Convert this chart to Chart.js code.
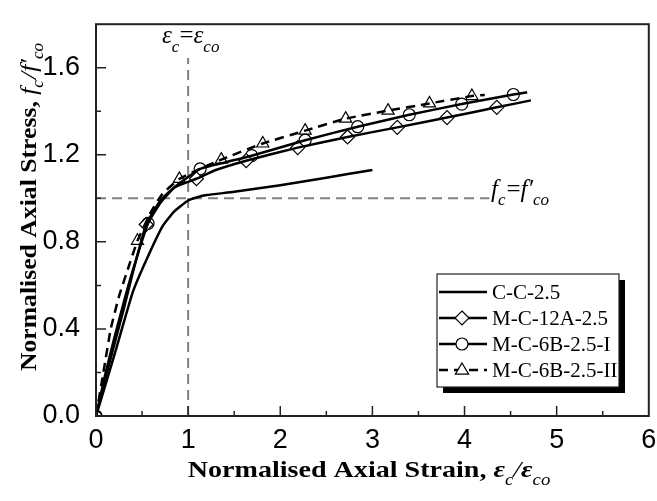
<!DOCTYPE html>
<html>
<head>
<meta charset="utf-8">
<script src="https://cdn.jsdelivr.net/npm/chart.js@4/dist/chart.umd.min.js"></script>
<style>
  body { margin: 0; background: #fff; }
  canvas { display: block; }
</style>
</head>
<body>
<canvas id="stressStrain" width="657" height="501"></canvas>
<script>
// normalised strain / stress
var ccStrain = [0, 0.1, 0.22, 0.4, 0.55, 0.72, 0.85, 1.0, 1.1, 1.2, 1.5, 2.0, 2.5, 3.0]
var ccStress = [0, 0.14, 0.31, 0.57, 0.72, 0.87, 0.94, 0.99, 1.005, 1.015, 1.03, 1.06, 1.095, 1.13]

var a12Strain = [0, 0.1, 0.2, 0.3, 0.4, 0.545, 0.7, 0.85, 1.09, 1.3, 1.63, 2.19, 2.73, 3.27, 3.81, 4.35, 4.72]
var a12Stress = [0, 0.17, 0.33, 0.49, 0.66, 0.88, 0.99, 1.05, 1.09, 1.13, 1.173, 1.233, 1.282, 1.326, 1.371, 1.418, 1.45]
var a12MarkStrain = [0, 0.545, 1.09, 1.63, 2.19, 2.73, 3.27, 3.81, 4.35]
var a12MarkStress = [0, 0.88, 1.09, 1.173, 1.233, 1.282, 1.326, 1.371, 1.418]

var b6Strain = [0, 0.1, 0.2, 0.3, 0.4, 0.565, 0.7, 0.85, 1.13, 1.4, 1.69, 2.27, 2.84, 3.4, 3.97, 4.53, 4.68]
var b6Stress = [0, 0.19, 0.36, 0.52, 0.67, 0.885, 0.98, 1.05, 1.135, 1.165, 1.196, 1.267, 1.329, 1.384, 1.433, 1.477, 1.487]
var b6MarkStrain = [0, 0.565, 1.13, 1.69, 2.27, 2.84, 3.4, 3.97, 4.53]
var b6MarkStress = [0, 0.885, 1.135, 1.196, 1.267, 1.329, 1.384, 1.433, 1.477]

var b6iiStrain = [0, 0.08, 0.16, 0.25, 0.35, 0.45, 0.6, 0.72, 0.905, 1.1, 1.36, 1.81, 2.27, 2.71, 3.17, 3.62, 4.08, 4.22]
var b6iiStress = [0, 0.2, 0.4, 0.55, 0.68, 0.805, 0.94, 1.02, 1.089, 1.13, 1.178, 1.252, 1.311, 1.366, 1.403, 1.436, 1.47, 1.475]
var b6iiMarkStrain = [0, 0.45, 0.905, 1.36, 1.81, 2.27, 2.71, 3.17, 3.62, 4.08]
var b6iiMarkStress = [0, 0.805, 1.089, 1.178, 1.252, 1.311, 1.366, 1.403, 1.436, 1.47]

var seriesNames = ['C-C-2.5', 'M-C-12A-2.5', 'M-C-6B-2.5-I', 'M-C-6B-2.5-II']
var xTickValues = [0, 1, 2, 3, 4, 5, 6]
var yTickValues = [0, 0.4, 0.8, 1.2, 1.6]
var refStrain = 1.0
var refStress = 1.0

var serif = "'Liberation Serif', 'Times New Roman', serif"
var sans = "'Liberation Sans', Arial, sans-serif"

function toPoints (xs, ys) {
  var pts = []
  for (var i = 0; i < xs.length; i++) pts.push({x: xs[i], y: ys[i]})
  return pts
}

function lineSet (xs, ys, dash) {
  return {
    data: toPoints(xs, ys), showLine: true, borderColor: '#000', borderWidth: 2.5,
    borderDash: dash || [], pointRadius: 0, tension: 0.15, fill: false
  }
}

function markSet (xs, ys, style, r) {
  return {
    data: toPoints(xs, ys), showLine: false, pointStyle: style, pointRadius: r,
    pointBackgroundColor: '#fff', pointBorderColor: '#000', pointBorderWidth: 1.2
  }
}

// draw a run of text pieces, each with its own font and vertical shift
function drawRich (ctx, parts, x, y) {
  var cx = x
  for (var i = 0; i < parts.length; i++) {
    ctx.font = parts[i].font
    ctx.fillText(parts[i].text, cx, y + (parts[i].dy || 0))
    cx += ctx.measureText(parts[i].text).width + (parts[i].gap || 0)
  }
  return cx - x
}

function richWidth (ctx, parts) {
  var w = 0
  for (var i = 0; i < parts.length; i++) {
    ctx.font = parts[i].font
    w += ctx.measureText(parts[i].text).width + (parts[i].gap || 0)
  }
  return w
}

function drawMarker (ctx, style, x, y, r) {
  ctx.save()
  ctx.fillStyle = '#fff'
  ctx.strokeStyle = '#000'
  ctx.lineWidth = 1.2
  ctx.beginPath()
  if (style === 'circle') {
    ctx.arc(x, y, r, 0, Math.PI * 2)
  } else if (style === 'rectRot') {
    ctx.moveTo(x, y - r); ctx.lineTo(x + r, y); ctx.lineTo(x, y + r); ctx.lineTo(x - r, y); ctx.closePath()
  } else if (style === 'triangle') {
    ctx.moveTo(x, y - r); ctx.lineTo(x + r * 0.95, y + r * 0.6); ctx.lineTo(x - r * 0.95, y + r * 0.6); ctx.closePath()
  }
  ctx.fill()
  ctx.stroke()
  ctx.restore()
}

var refLines = {
  id: 'refLines',
  beforeDatasetsDraw: function (chart) {
    var ctx = chart.ctx
    var xs = chart.scales.x
    var ys = chart.scales.y
    var area = chart.chartArea
    var px = xs.getPixelForValue(refStrain)
    var py = ys.getPixelForValue(refStress)
    ctx.save()
    ctx.strokeStyle = '#808080'
    ctx.lineWidth = 2
    ctx.setLineDash([10, 6])
    ctx.beginPath()
    ctx.moveTo(px, area.bottom); ctx.lineTo(px, 58)
    ctx.moveTo(area.left, py); ctx.lineTo(xs.getPixelForValue(4.27), py)
    ctx.stroke()
    ctx.restore()

    ctx.save()
    ctx.fillStyle = '#000'
    ctx.textBaseline = 'alphabetic'
    var it = 'italic 25px ' + serif
    var sub = 'italic 17px ' + serif
    drawRich(ctx, [
      {text: '\u03b5', font: it}, {text: 'c', font: sub, dy: 9},
      {text: '=', font: '25px ' + serif}, {text: '\u03b5', font: it}, {text: 'co', font: sub, dy: 9}
    ], 162, 43)
    drawRich(ctx, [
      {text: 'f', font: it}, {text: 'c', font: sub, dy: 8, gap: 1},
      {text: '=', font: '25px ' + serif}, {text: 'f\u2032', font: it}, {text: 'co', font: sub, dy: 8}
    ], 491, 197)
    ctx.restore()
  }
}

var frame = {
  id: 'frame',
  afterDraw: function (chart) {
    var ctx = chart.ctx
    var a = chart.chartArea
    var xs = chart.scales.x
    var ys = chart.scales.y
    ctx.save()
    ctx.strokeStyle = '#222'
    ctx.lineWidth = 2
    ctx.strokeRect(a.left, a.top, a.right - a.left, a.bottom - a.top)
    ctx.lineWidth = 1.5
    ctx.beginPath()
    for (var v = 0.5; v < 6; v += 0.5) {
      var px = xs.getPixelForValue(v)
      var len = (v % 1 === 0) ? 10 : 5
      ctx.moveTo(px, a.bottom); ctx.lineTo(px, a.bottom - len)
    }
    for (var k = 1; k < 9; k++) {
      var py = ys.getPixelForValue(k * 0.2)
      var ylen = (k % 2 === 0) ? 10 : 5
      ctx.moveTo(a.left, py); ctx.lineTo(a.left + ylen, py)
    }
    ctx.stroke()
    ctx.restore()

    // axis titles (the source type is drawn a little wide)
    var bold = 'bold 24px ' + serif
    var bi = 'bold italic 24px ' + serif
    var it = 'italic 24px ' + serif
    var sub = 'italic 16px ' + serif

    ctx.save()
    ctx.fillStyle = '#000'
    var xParts = [
      {text: 'Normalised Axial Strain, ', font: bold},
      {text: '\u03b5', font: bi}, {text: 'c', font: sub, dy: 8},
      {text: '/', font: it}, {text: '\u03b5', font: bi}, {text: 'co', font: sub, dy: 8}
    ]
    var xw = richWidth(ctx, xParts)
    ctx.translate(369, 477)
    ctx.scale(1.17, 1)
    drawRich(ctx, xParts, -xw / 2, 0)
    ctx.restore()

    ctx.save()
    ctx.fillStyle = '#000'
    var yParts = [
      {text: 'Normalised Axial Stress, ', font: bold},
      {text: 'f', font: it}, {text: 'c', font: sub, dy: 7, gap: 1},
      {text: '/', font: it}, {text: 'f\u2032', font: it}, {text: 'co', font: sub, dy: 7}
    ]
    var yw = richWidth(ctx, yParts)
    ctx.translate(36, 207)
    ctx.rotate(-Math.PI / 2)
    ctx.scale(1.07, 1)
    drawRich(ctx, yParts, -yw / 2, 0)
    ctx.restore()

    // legend with drop shadow
    var bx = 437, by = 274, bw = 182, bh = 113
    ctx.save()
    ctx.fillStyle = '#000'
    ctx.fillRect(bx + 6, by + 6, bw, bh)
    ctx.fillStyle = '#fff'
    ctx.fillRect(bx, by, bw, bh)
    ctx.strokeStyle = '#222'
    ctx.lineWidth = 1.2
    ctx.strokeRect(bx, by, bw, bh)
    var styles = [null, 'rectRot', 'circle', 'triangle']
    var radii = [0, 7, 6, 7]
    for (var i = 0; i < seriesNames.length; i++) {
      var ry = 292 + i * 26
      ctx.strokeStyle = '#000'
      ctx.lineWidth = 2.5
      ctx.setLineDash(i === 3 ? [9, 6] : [])
      ctx.beginPath()
      ctx.moveTo(439, ry); ctx.lineTo(487, ry)
      ctx.stroke()
      ctx.setLineDash([])
      if (styles[i]) drawMarker(ctx, styles[i], 462, ry, radii[i])
      ctx.fillStyle = '#000'
      ctx.font = '21px ' + serif
      ctx.textBaseline = 'middle'
      ctx.fillText(seriesNames[i], 492, ry + 1)
    }
    ctx.restore()
  }
}

var ctx = document.getElementById('stressStrain').getContext('2d')
new Chart(ctx, {
  type: 'scatter',
  data: {
    datasets: [
      lineSet(ccStrain, ccStress),
      lineSet(a12Strain, a12Stress),
      lineSet(b6Strain, b6Stress),
      lineSet(b6iiStrain, b6iiStress, [9, 6]),
      markSet(a12MarkStrain, a12MarkStress, 'rectRot', 7),
      markSet(b6MarkStrain, b6MarkStress, 'circle', 6),
      markSet(b6iiMarkStrain, b6iiMarkStress, 'triangle', 7)
    ]
  },
  options: {
    responsive: false,
    animation: false,
    layout: {padding: {top: 10, right: 8, left: 0, bottom: 0}},
    plugins: {legend: {display: false}, tooltip: {enabled: false}},
    scales: {
      x: {
        type: 'linear', min: 0, max: 6,
        afterBuildTicks: function (s) { s.ticks = xTickValues.map(function (v) { return {value: v} }) },
        afterFit: function (s) { s.height = 85 },
        grid: {display: false}, border: {display: false},
        ticks: {color: '#000', font: {family: sans, size: 27}, padding: 0,
          callback: function (v) { return String(v) }}
      },
      y: {
        type: 'linear', min: 0, max: 1.8,
        afterBuildTicks: function (s) { s.ticks = yTickValues.map(function (v) { return {value: v} }) },
        afterFit: function (s) { s.width = 96 },
        grid: {display: false}, border: {display: false},
        ticks: {color: '#000', font: {family: sans, size: 27}, padding: 8,
          callback: function (v) { return Number(v).toFixed(1) }}
      }
    }
  },
  plugins: [refLines, frame]
})
</script>
</body>
</html>
